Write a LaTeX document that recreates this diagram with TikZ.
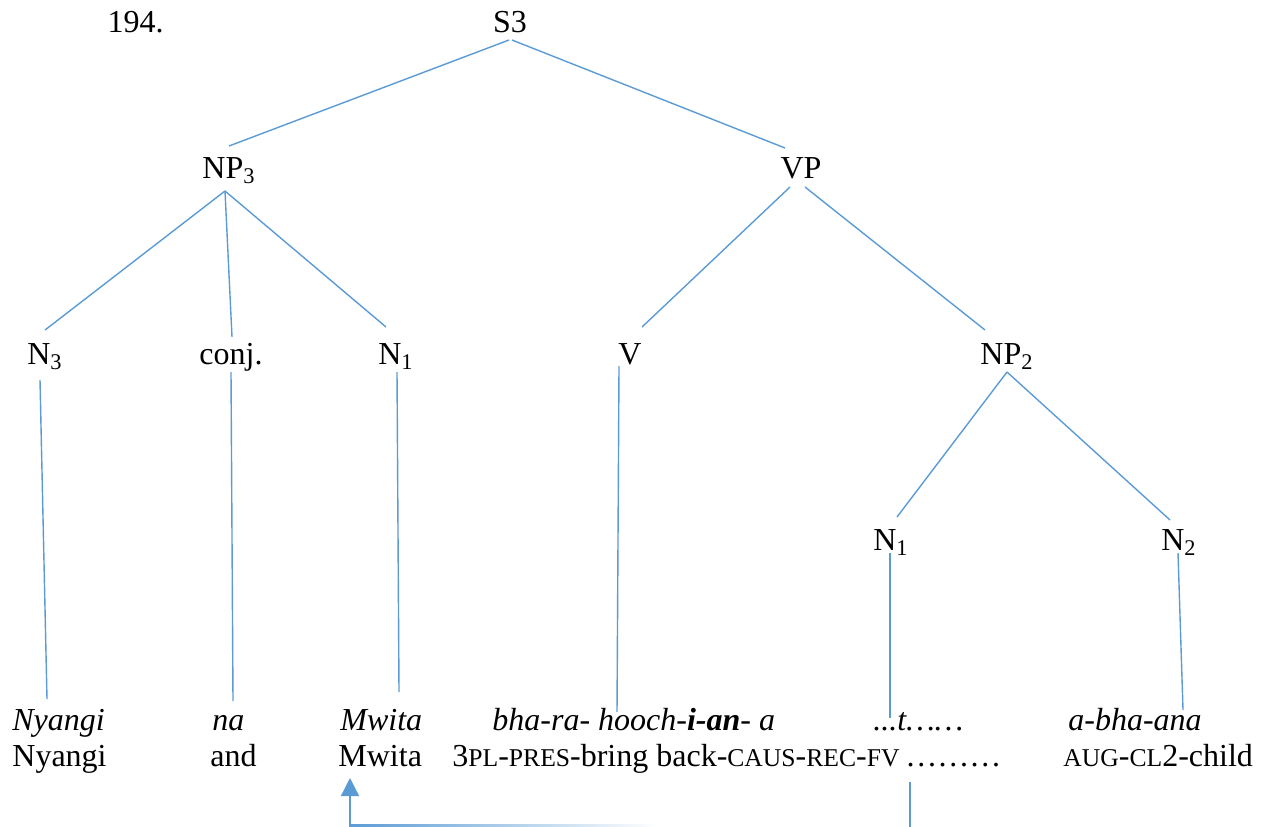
\documentclass[tikz,border=0pt]{standalone}
\usepackage{fontspec}
\setmainfont{Liberation Serif}
\usetikzlibrary{calc,arrows.meta}
\definecolor{treeblue}{HTML}{5B9BD5}
% reduced capitals for the gloss abbreviations
\newcommand{\smcap}[1]{{\fontsize{12.8}{15}\selectfont #1}}

\begin{document}
\begin{tikzpicture}[x=0.5pt,y=-0.5pt,
  font=\fontsize{16}{19}\selectfont,
  lbl/.style={inner sep=0pt, anchor=base},
  word/.style={inner sep=0pt, anchor=base west},
  edge/.style={draw=treeblue, line width=0.7pt}]
\useasboundingbox (0,0) rectangle (1261,826);

% example number
\node[lbl] (num) at (135.5,32) {194.};

% tree labels
\node[lbl] (S)   at (510,32)   {S3};
\node[lbl] (NP3) at (229,178)  {NP\textsubscript{3}};
\node[lbl] (VP)  at (801,178)  {VP};
\node[lbl] (N3)  at (45,364)   {N\textsubscript{3}};
\node[lbl] (CJ)  at (231,364)  {conj.};
\node[lbl] (N1a) at (396,364)  {N\textsubscript{1}};
\node[lbl] (V)   at (630,364)  {V};
\node[lbl] (NP2) at (1007,364) {NP\textsubscript{2}};
\node[lbl] (N1b) at (891,550)  {N\textsubscript{1}};
\node[lbl] (N2)  at (1179,550) {N\textsubscript{2}};

% object-language line
\node[word] (w1) at (12,730)   {\textit{Nyangi}};
\node[word] (w2) at (212,730)  {\textit{na}};
\node[word] (w3) at (340,730)  {\textit{Mwita}};
\node[word] (w4) at (492,730)  {\textit{bha-ra- hooch-\textbf{i-an}- a}};
\node[word] (w5) at (873,730)  {\textit{...t……}};
\node[word] (w6) at (1068,730) {\textit{a-bha-ana}};

% gloss line
\node[word] (g1) at (12,766)   {Nyangi};
\node[word] (g2) at (210,766)  {and};
\node[word] (g3) at (338,766)  {Mwita};
\node[word] (g4) at (452,766)  {3\smcap{PL}-\smcap{PRES}-bring back-\smcap{CAUS}-\smcap{REC}-\smcap{FV}};
\node[word] (g5) at (905,766)  {………};
\node[word] (g6) at (1063,766) {\smcap{AUG}-\smcap{CL}2-child};

% branches
\draw[edge] ($(S.base)+(-1,8)$)    -- ($(NP3.base)+(0,-32)$);
\draw[edge] ($(S.base)+(2,8)$)     -- ($(VP.base)+(-16,-30)$);
\draw[edge] ($(NP3.base)+(-4,13)$) -- ($(N3.base)+(0,-34)$);
\draw[edge] ($(NP3.base)+(-4,13)$) -- ($(CJ.base)+(1,-27)$);
\draw[edge] ($(NP3.base)+(-4,13)$) -- ($(N1a.base)+(-10,-37)$);
\draw[edge] ($(VP.base)+(-11,9)$)  -- ($(V.base)+(12,-37)$);
\draw[edge] ($(VP.base)+(4,9)$)    -- ($(NP2.base)+(-22,-34)$);
\draw[edge] ($(NP2.base)+(0,8)$)   -- ($(N1b.base)+(6,-33)$);
\draw[edge] ($(NP2.base)+(0,8)$)   -- ($(N2.base)+(-9,-30)$);

% terminal lines
\draw[edge] ($(N3.base)+(-5,16)$)  -- ($(w1.base west)+(35,-31)$);
\draw[edge] ($(CJ.base)+(0,8)$)    -- ($(w2.base west)+(21,-29)$);
\draw[edge] ($(N1a.base)+(1,8)$)   -- ($(w3.base west)+(59,-38)$);
\draw[edge] ($(V.base)+(-11,2)$)   -- ($(w4.base west)+(125,-18)$);
\draw[edge] ($(N1b.base)+(-1,3)$)  -- ($(w5.base west)+(17,-12)$);
\draw[edge] ($(N2.base)+(-1,3)$)   -- ($(w6.base west)+(115,-20)$);

% movement arrow from the gap back to Mwita
\draw[edge] ($(g5.base west)+(5,16)$) -- ++(0,46);
\shade[left color=treeblue, right color=white]
  ($(g3.base west)+(11,58)$) rectangle ($(g3.base west)+(320,60.5)$);
\draw[edge, -{Triangle[width=9pt,length=9pt]}]
  ($(g3.base west)+(12,59)$) -- ($(g3.base west)+(12,12)$);
\end{tikzpicture}
\end{document}
